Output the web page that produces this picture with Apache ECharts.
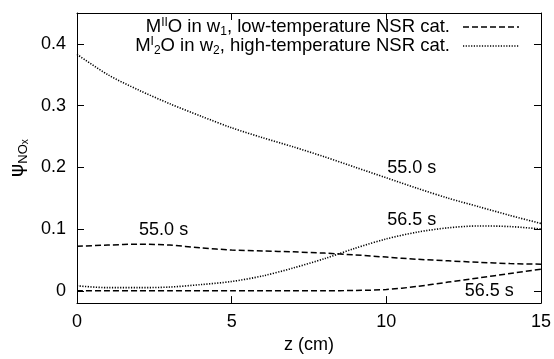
<!DOCTYPE html>
<html>
<head>
<meta charset="utf-8">
<script src="https://cdn.jsdelivr.net/npm/echarts@6/dist/echarts.min.js"></script>
<style>html,body{margin:0;padding:0;background:#fff;}#c{width:554px;height:359px;}</style>
</head>
<body>
<div id="c"></div>
<script>
// ---- data ----
const zValues = [0, 1, 2, 3, 4, 5, 6, 7, 8, 9, 10, 11, 12, 13, 14, 15];
const lowT_55_0 = [0.072, 0.074, 0.0755, 0.074, 0.0695, 0.066, 0.0645, 0.063, 0.061, 0.058, 0.0545, 0.051, 0.0485, 0.046, 0.044, 0.043];
const lowT_56_5 = [0, 0, 0, 0, 0, 0, 0, 0, 0, 0.0005, 0.002, 0.007, 0.014, 0.021, 0.028, 0.035];
const highT_55_0 = [0.383, 0.350, 0.325, 0.303, 0.283, 0.264, 0.248, 0.233, 0.217, 0.200, 0.183, 0.166, 0.150, 0.136, 0.122, 0.109];
const highT_56_5 = [0.008, 0.005, 0.005, 0.006, 0.010, 0.015, 0.024, 0.037, 0.052, 0.069, 0.084, 0.095, 0.102, 0.105, 0.104, 0.100];
const xTicks = [0, 5, 10, 15];
const yTicks = [0, 0.1, 0.2, 0.3, 0.4];
const annotText = ['55.0 s', '56.5 s', '55.0 s', '56.5 s'];
const annotZ = [10.82, 10.82, 2.8, 13.33];
const annotV = [0.199, 0.1145, 0.099, 0.0];
const legendLow = '{t|M}{sup|II}{t|O in w}{sub|1}{t|, low-temperature NSR cat.}';
const legendHigh = '{t|M}{sup|I}{sub|2}{t|O in w}{sub|2}{t|, high-temperature NSR cat.}';

const pair = (ys) => zValues.map((z, i) => [z, ys[i]]);
const FONT = 'Liberation Sans';
const FS = 18;
const AX = '#000';

const chart = echarts.init(document.getElementById('c'), null, {renderer: 'canvas'});
const dashed = {color: '#000', width: 1.5, type: [6, 3]};
const dotted = {color: '#000', width: 1.6, type: [1.2, 1.5]};

const richLegend = {
  t: {fontSize: 18.5, lineHeight: 21, fontFamily: FONT, fill: '#000', color: '#000', verticalAlign: 'middle'},
  sup: {fontSize: 12, lineHeight: 13, fontFamily: FONT, fill: '#000', color: '#000', verticalAlign: 'top'},
  sub: {fontSize: 12, lineHeight: 12, fontFamily: FONT, fill: '#000', color: '#000', verticalAlign: 'bottom'}
};

const baseX = {
  type: 'value', min: 0, max: 15, interval: 5,
  axisLine: {show: true, onZero: false, lineStyle: {color: AX, width: 1}},
  axisTick: {show: true, inside: true, length: 7, lineStyle: {color: AX}},
  splitLine: {show: false}
};
const baseY = {
  type: 'value', min: -0.02, max: 0.45,
  axisLine: {show: true, onZero: false, lineStyle: {color: AX, width: 1}},
  axisTick: {show: true, inside: true, length: 7, customValues: yTicks, lineStyle: {color: AX}},
  splitLine: {show: false}
};

const option = {
  animation: false,
  backgroundColor: '#fff',
  textStyle: {fontFamily: FONT},
  grid: {left: 77, right: 12, top: 13, bottom: 46, containLabel: false},
  graphic: [
    {type: 'text', z: 100, style: {x: 450, y: 27, text: legendLow, rich: richLegend, align: 'right', verticalAlign: 'middle', fill: '#000', font: '18px ' + FONT}},
    {type: 'text', z: 100, style: {x: 450, y: 46, text: legendHigh, rich: richLegend, align: 'right', verticalAlign: 'middle', fill: '#000', font: '18px ' + FONT}},
    {type: 'line', z: 100, shape: {x1: 463, y1: 27, x2: 519, y2: 27}, style: {stroke: '#000', lineWidth: 1.5, lineDash: [6, 3]}},
    {type: 'line', z: 100, shape: {x1: 463, y1: 46, x2: 519, y2: 46}, style: {stroke: '#000', lineWidth: 1.6, lineDash: [1.2, 1.5]}}
  ],
  xAxis: [
    Object.assign({}, baseX, {
      position: 'bottom',
      axisLabel: {show: true, fontSize: FS, color: '#000', margin: 10, fontFamily: FONT, customValues: xTicks},
      name: 'z (cm)', nameLocation: 'middle', nameGap: 30,
      nameTextStyle: {fontSize: FS, color: '#000', fontFamily: FONT}
    }),
    Object.assign({}, baseX, {position: 'top', axisLabel: {show: false}})
  ],
  yAxis: [
    Object.assign({}, baseY, {
      position: 'left',
      axisLabel: {show: true, fontSize: FS, color: '#000', margin: 11, fontFamily: FONT,
        customValues: yTicks,
        formatter: (v) => (Math.abs(v) < 1e-9 ? '0' : v.toFixed(1))},
      name: '{p|ψ}{s|NO}{x|x}', nameLocation: 'middle', nameGap: 44, nameRotate: 90,
      nameTextStyle: {
        color: '#000',
        rich: {
          p: {fontSize: 20, lineHeight: 24, fontFamily: 'DejaVu Sans', color: '#000', verticalAlign: 'middle'},
          s: {fontSize: 13, lineHeight: 18, fontFamily: FONT, color: '#000', verticalAlign: 'bottom'},
          x: {fontSize: 10, lineHeight: 6, fontFamily: FONT, color: '#000', verticalAlign: 'bottom'}
        }
      }
    }),
    Object.assign({}, baseY, {position: 'right', axisLabel: {show: false}})
  ],
  series: [
    {name: 'low 55.0', type: 'line', data: pair(lowT_55_0), smooth: 0.3, symbol: 'none', lineStyle: dashed, color: '#000'},
    {name: 'low 56.5', type: 'line', data: pair(lowT_56_5), smooth: 0.3, symbol: 'none', lineStyle: dashed, color: '#000'},
    {name: 'high 55.0', type: 'line', data: pair(highT_55_0), smooth: 0.3, symbol: 'none', lineStyle: dotted, color: '#000'},
    {name: 'high 56.5', type: 'line', data: pair(highT_56_5), smooth: 0.3, symbol: 'none', lineStyle: dotted, color: '#000'},
    {
      name: 'annotations', type: 'scatter', symbolSize: 0, silent: true,
      itemStyle: {opacity: 1, color: '#000'},
      data: annotZ.map((z, i) => ({value: [z, annotV[i]], name: annotText[i]})),
      label: {show: true, position: 'inside', formatter: (p) => p.name, fontSize: FS, color: '#000', fontFamily: FONT, opacity: 1}
    }
  ]
};
chart.setOption(option);
</script>
</body>
</html>
